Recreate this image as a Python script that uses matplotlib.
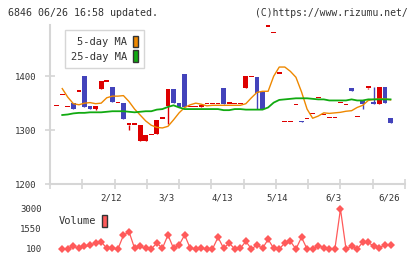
import numpy as np
import matplotlib
matplotlib.use('Agg')
import matplotlib.pyplot as plt
from matplotlib.patches import Patch

# candle data, one per slot 0..60
opens = [1345, 1365, 1343, 1350, 1371, 1400, 1344, 1340, 1376, 1390,
         1380, 1350, 1350, 1310, 1310, 1280, 1280, 1291, 1292, 1321,
         1344, 1376, 1350, 1404, 1343, 1343, 1343, 1348, 1348, 1348,
         1378, 1349, 1348, 1348, 1378, 1398, 1398, 1371, 1492, 1480,
         1405, 1315, 1315, 1346, 1316, 1320, 1330, 1359, 1328, 1322,
         1322, 1350, 1346, 1378, 1324, 1355, 1379, 1353, 1349, 1380,
         1323]
closes = [1345, 1365, 1343, 1339, 1371, 1343, 1340, 1344, 1391, 1390,
          1353, 1350, 1320, 1310, 1310, 1310, 1291, 1291, 1319, 1321,
          1376, 1350, 1343, 1343, 1343, 1343, 1346, 1348, 1348, 1348,
          1349, 1349, 1348, 1348, 1400, 1398, 1369, 1340, 1492, 1480,
          1405, 1315, 1315, 1346, 1315, 1320, 1330, 1359, 1328, 1322,
          1322, 1350, 1346, 1373, 1324, 1349, 1379, 1349, 1380, 1350,
          1314]
highs = [1345, 1365, 1343, 1350, 1371, 1400, 1344, 1344, 1391, 1390,
         1380, 1350, 1351, 1310, 1310, 1310, 1291, 1291, 1319, 1321,
         1376, 1376, 1350, 1404, 1343, 1343, 1346, 1348, 1348, 1348,
         1378, 1349, 1348, 1348, 1400, 1398, 1398, 1371, 1492, 1480,
         1405, 1315, 1315, 1346, 1316, 1320, 1330, 1359, 1328, 1322,
         1322, 1350, 1346, 1378, 1324, 1355, 1379, 1380, 1380, 1380,
         1323]
lows = [1345, 1365, 1343, 1339, 1371, 1343, 1340, 1338, 1376, 1390,
        1353, 1350, 1320, 1300, 1310, 1280, 1280, 1291, 1292, 1321,
        1312, 1350, 1343, 1343, 1343, 1343, 1343, 1348, 1348, 1348,
        1349, 1349, 1348, 1348, 1378, 1398, 1340, 1340, 1492, 1480,
        1405, 1315, 1315, 1346, 1315, 1320, 1330, 1359, 1328, 1322,
        1322, 1350, 1346, 1373, 1324, 1339, 1377, 1349, 1349, 1350,
        1314]

# moving averages and volume, slots 1..60
ma5 = [1377, 1361, 1349, 1347, 1350, 1351, 1349, 1350, 1360, 1363,
       1363, 1364, 1353, 1339, 1328, 1317, 1309, 1305, 1304, 1307,
       1319, 1332, 1342, 1347, 1350, 1348, 1345, 1346, 1346, 1346,
       1346, 1346, 1346, 1349, 1360, 1370, 1372, 1372, 1400, 1417,
       1417, 1409, 1398, 1371, 1339, 1322, 1326, 1332, 1331, 1332,
       1333, 1335, 1336, 1342, 1346, 1355, 1357, 1358, 1358, 1356]
ma25 = [1328, 1329, 1331, 1332, 1332, 1333, 1333, 1333, 1334, 1335,
        1335, 1335, 1334, 1333, 1334, 1335, 1335, 1338, 1339, 1343,
        1346, 1342, 1339, 1339, 1339, 1339, 1339, 1339, 1339, 1337,
        1337, 1339, 1339, 1338, 1338, 1338, 1338, 1342, 1351, 1356,
        1357, 1358, 1359, 1359, 1359, 1358, 1357, 1357, 1355, 1355,
        1355, 1355, 1357, 1355, 1355, 1357, 1357, 1357, 1357, 1357]
volume = [100, 100, 290, 150, 290, 365, 535, 630, 150, 150,
          100, 1090, 1360, 150, 290, 150, 100, 535, 150, 1115,
          150, 390, 1115, 150, 100, 150, 100, 100, 950, 150,
          535, 100, 150, 655, 100, 390, 150, 800, 150, 100,
          535, 655, 100, 950, 100, 100, 340, 200, 100, 100,
          3000, 100, 290, 100, 580, 580, 290, 200, 390, 390]

date_labels = ['2/12', '3/3', '4/13', '5/14', '6/3', '6/26']
date_pos = [10, 20, 30, 40, 50, 60]
price_ticks = [1200, 1300, 1400]
vol_ticks = [100, 1550, 3000]

RED = '#dd0000'
BLUE = '#4343bb'
GRID = '#d6d6d6'
TXT = '#333333'
plt.rcParams['font.family'] = 'DejaVu Sans Mono'

fig = plt.figure(figsize=(4.2, 2.59), dpi=100)
W, H = 420.0, 259.0
ax = fig.add_axes([50/W, 1-184/H, 355/W, 159/H])
vax = fig.add_axes([50/W, 1-253/H, 355/W, 48/H])

x = np.arange(len(opens))
o = np.array(opens); c = np.array(closes)
cols = [RED if cc >= oo else BLUE for oo, cc in zip(o, c)]
bottom = np.minimum(o, c)
height = np.maximum(np.abs(c - o), 2.5)
ax.vlines(x, lows, highs, colors=cols, linewidth=1, zorder=2)
ax.bar(x, height, bottom=bottom, width=0.85, color=cols, linewidth=0, zorder=3)

xm = np.arange(1, len(ma5) + 1)
ax.plot(xm, ma5, color='#ee8800', linewidth=1, zorder=4)
ax.plot(xm, ma25, color='#11aa11', linewidth=1.3, zorder=4)

xlo, xhi = -1.2, 62.6
ax.set_xlim(xlo, xhi)
ax.set_ylim(1200, 1495)
for s in ['top', 'right']:
    ax.spines[s].set_visible(False)
for s in ['left', 'bottom']:
    ax.spines[s].set_color(GRID)
    ax.spines[s].set_linewidth(1.5)
ax.set_xticks(np.linspace(xlo, xhi, 12))
ax.set_xticklabels([])
ax.set_yticks(price_ticks)
ax.tick_params(axis='x', direction='inout', length=7, width=1.2, color=GRID)
ax.tick_params(axis='y', direction='inout', length=7, width=1.2, color=GRID,
               labelsize=6.5, labelcolor=TXT, pad=6)
for p, lab in zip(date_pos, date_labels):
    ax.text(p - 0.3, -0.09, lab, transform=ax.get_xaxis_transform(),
            ha='center', va='center', fontsize=6.5, color=TXT)

leg = ax.legend(handles=[Patch(facecolor='#ee8800', edgecolor='#333333', label='5-day MA'),
                         Patch(facecolor='#11aa11', edgecolor='#333333', label='25-day MA')],
                loc='upper left', bbox_to_anchor=(0.042, 0.969), borderaxespad=0,
                markerfirst=False, fontsize=7.5, handlelength=0.5, handleheight=1.35,
                labelspacing=0.3, handletextpad=0.55, borderpad=0.55,
                fancybox=False, framealpha=1, edgecolor=GRID)
for t in leg.get_texts():
    t.set_color(TXT)

# volume panel
xv = np.arange(1, len(volume) + 1)
vax.plot(xv, volume, color='#ff5a5a', linewidth=0.9, marker='D', markersize=4.3,
         markeredgewidth=0)
vax.set_xlim(xlo, xhi)
vax.set_ylim(-190, 3290)
for s in vax.spines.values():
    s.set_visible(False)
vax.set_xticks([])
vax.set_yticks(vol_ticks)
vax.tick_params(axis='y', length=0, labelsize=6.5, labelcolor=TXT, pad=6)
vleg = vax.legend(handles=[Patch(facecolor='#ff5a5a', edgecolor='#333333', label='Volume')],
                  loc='center left', bbox_to_anchor=(59/W, 1-221/H),
                  bbox_transform=fig.transFigure, borderaxespad=0, borderpad=0,
                  markerfirst=False, fontsize=7.5, handlelength=0.5, handleheight=1.4,
                  handletextpad=0.55, frameon=False)
for t in vleg.get_texts():
    t.set_color(TXT)

fig.text(8/W, 1-13/H, '6846 06/26 16:58 updated.', fontsize=7.2, color=TXT, va='center')
fig.text(255/W, 1-13/H, '(C)https://www.rizumu.net/', fontsize=7.0, color=TXT,
         va='center', ha='left')

fig.savefig('out.png', dpi=100)
